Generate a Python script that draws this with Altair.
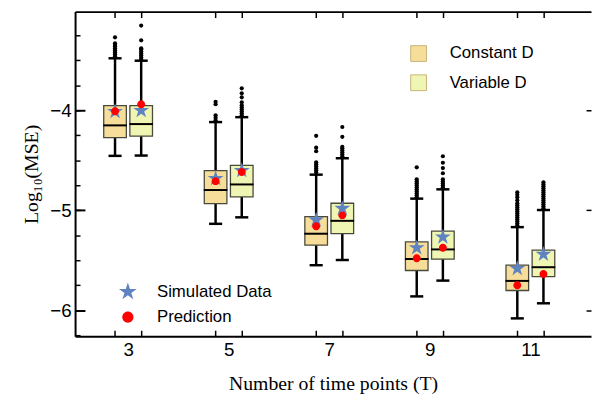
import altair as alt
import pandas as pd

# ---------------- data ----------------
T_values = [3, 5, 7, 9, 11]
methods = ["Constant D", "Variable D"]
method_fill = ["#f6dd9a", "#eff5b3"]
kinds = ["Simulated Data", "Prediction"]

# box statistics (log10 MSE), one value per T
const_low = [-4.456, -5.136, -5.550, -5.862, -6.082]
const_q1 = [-4.273, -4.933, -5.350, -5.603, -5.803]
const_med = [-4.151, -4.798, -5.235, -5.488, -5.707]
const_q3 = [-3.954, -4.604, -5.064, -5.317, -5.550]
const_high = [-3.480, -4.118, -4.644, -4.884, -5.169]

var_low = [-4.453, -5.071, -5.498, -5.704, -5.931]
var_q1 = [-4.259, -4.867, -5.235, -5.490, -5.665]
var_med = [-4.138, -4.742, -5.106, -5.392, -5.570]
var_q3 = [-3.954, -4.552, -4.930, -5.209, -5.399]
var_high = [-3.504, -4.069, -4.480, -4.791, -4.998]

sim_const = [-4.013, -4.683, -5.097, -5.376, -5.583]
sim_var = [-4.003, -4.604, -4.982, -5.268, -5.441]
pred_const = [-4.010, -4.709, -5.160, -5.481, -5.751]
pred_var = [-3.940, -4.618, -5.051, -5.376, -5.638]

const_out = [
    [-3.46, -3.44, -3.42, -3.40, -3.38, -3.36, -3.345, -3.33, -3.27],
    [-4.10, -4.075, -4.05, -3.94, -3.915],
    [-4.62, -4.60, -4.58, -4.56, -4.54, -4.52, -4.41, -4.374, -4.256],
    [-4.87, -4.85, -4.83, -4.81, -4.79, -4.77, -4.75, -4.73, -4.71, -4.69, -4.571],
    [-5.15, -5.13, -5.11, -5.09, -5.07, -5.05, -5.03, -5.01, -4.99, -4.97, -4.95,
     -4.93, -4.90, -4.87, -4.845, -4.82],
]
var_out = [
    [-3.49, -3.47, -3.45, -3.43, -3.41, -3.39, -3.38, -3.30, -3.153],
    [-4.05, -4.03, -4.01, -3.99, -3.97, -3.95, -3.92, -3.87, -3.83, -3.78],
    [-4.46, -4.44, -4.42, -4.40, -4.38, -4.365, -4.266, -4.167],
    [-4.77, -4.75, -4.73, -4.71, -4.69, -4.63, -4.578, -4.525, -4.46],
    [-4.98, -4.96, -4.94, -4.92, -4.90, -4.88, -4.86, -4.84, -4.82, -4.80, -4.78,
     -4.76, -4.74, -4.72],
]

# ---------------- layout constants ----------------
SIDE = [-0.26, 0.26]          # horizontal shift of each method around T
BOX_HALF = 0.225
CAP_HALF = 0.13
MED_HALF = 0.235
X_DOMAIN = [1.9455, 12.206]
Y_DOMAIN = [-6.26, -3.013]
W, H = 523, 329

STAR = ("M0,-1L0.2245,-0.309L0.951,-0.309L0.363,0.118L0.588,0.809L0,0.382"
        "L-0.588,0.809L-0.363,0.118L-0.951,-0.309L-0.2245,-0.309Z")
DOT = "M-0.6,0A0.6,0.6 0 1,0 0.6,0A0.6,0.6 0 1,0 -0.6,0Z"

stats = {
    "Constant D": (const_low, const_q1, const_med, const_q3, const_high, sim_const, pred_const, const_out),
    "Variable D": (var_low, var_q1, var_med, var_q3, var_high, sim_var, pred_var, var_out),
}

box_rows, out_rows, pt_rows = [], [], []
for mi, m in enumerate(methods):
    low, q1, med, q3, high, sim, pred, outs = stats[m]
    for j, t in enumerate(T_values):
        x = t + SIDE[mi]
        box_rows.append(dict(method=m, T=t, x=x, xl=x - BOX_HALF, xr=x + BOX_HALF,
                             cl=x - CAP_HALF, cr=x + CAP_HALF,
                             ml=x - MED_HALF, mr=x + MED_HALF,
                             low=low[j], q1=q1[j], med=med[j], q3=q3[j], high=high[j]))
        for v in outs[j]:
            out_rows.append(dict(x=x, v=v))
        pt_rows.append(dict(x=x, v=sim[j], kind="Simulated Data"))
for mi, m in enumerate(methods):
    _, _, _, _, _, sim, pred, _ = stats[m]
    for j, t in enumerate(T_values):
        pt_rows.append(dict(x=t + SIDE[mi], v=pred[j], kind="Prediction"))

box_df = pd.DataFrame(box_rows)
out_df = pd.DataFrame(out_rows)
pt_df = pd.DataFrame(pt_rows)
cap_df = pd.concat([box_df.assign(yc=box_df["low"]), box_df.assign(yc=box_df["high"])])

box_pos = sorted(box_df["x"].tolist())
quarters = [-6.25 + 0.25 * k for k in range(13)]
majors = [-6, -5, -4]

xs = alt.Scale(domain=X_DOMAIN, nice=False, zero=False)
ys = alt.Scale(domain=Y_DOMAIN, nice=False, zero=False)

SANS = "Liberation Sans"
SERIF = "Liberation Serif"

# whiskers + bottom / left inner ticks (frame lines)
whisk = alt.Chart(box_df).mark_rule(color="black", strokeWidth=2.5).encode(
    x=alt.X("x:Q", scale=xs, axis=alt.Axis(orient="top", offset=-H, values=box_pos,
                                           tickSize=6, tickWidth=1.5, labels=False,
                                           domain=True, domainWidth=2, title=None)),
    y=alt.Y("low:Q", scale=ys, axis=alt.Axis(orient="right", offset=-W, values=quarters,
                                             tickSize=5, tickWidth=1.5, labels=False,
                                             domain=True, domainWidth=2, title=None)),
    y2="high:Q",
)

boxes = alt.Chart(box_df).mark_rect(stroke="#4a4a3a", strokeWidth=1.3).encode(
    x=alt.X("xl:Q", scale=xs, axis=alt.Axis(orient="bottom", values=T_values, ticks=False,
                                            tickSize=0, domain=False, labelPadding=5,
                                            labelFont=SANS, labelFontSize=19,
                                            title="Number of time points (T)",
                                            titleFont=SERIF, titleFontSize=20,
                                            titleFontWeight="normal", titlePadding=14)),
    x2="xr:Q",
    y=alt.Y("q1:Q", scale=ys, axis=alt.Axis(orient="left", values=majors, ticks=False,
                                            tickSize=0, domain=False, labelPadding=4,
                                            labelFont=SANS, labelFontSize=19,
                                            title="Log₁₀(MSE)", titleFont=SERIF,
                                            titleFontSize=20, titleFontWeight="normal",
                                            titlePadding=8)),
    y2="q3:Q",
    fill=alt.Fill("method:N", scale=alt.Scale(domain=methods, range=method_fill),
                  legend=alt.Legend(orient="none", legendX=339.7, legendY=34, title=None,
                                    symbolType="square", symbolSize=256,
                                    symbolStrokeColor="#c8b47a", symbolStrokeWidth=1,
                                    labelFont=SANS, labelFontSize=17, labelOffset=23,
                                    rowPadding=8.6, padding=0)),
)

caps = alt.Chart(cap_df).mark_rule(color="black", strokeWidth=2.5).encode(
    x=alt.X("cl:Q", scale=xs, axis=alt.Axis(orient="bottom", offset=-H, values=box_pos,
                                            tickSize=6, tickWidth=1.5, labels=False,
                                            domain=True, domainWidth=2, title=None)),
    x2="cr:Q",
    y=alt.Y("yc:Q", scale=ys, axis=alt.Axis(orient="right", offset=-W, values=majors,
                                            tickSize=10, tickWidth=2, labels=False,
                                            domain=False, title=None)),
)

medians = alt.Chart(box_df).mark_rule(color="black", strokeWidth=2).encode(
    x=alt.X("ml:Q", scale=xs, axis=None),
    x2="mr:Q",
    y=alt.Y("med:Q", scale=ys, axis=alt.Axis(orient="left", offset=-W, values=majors,
                                             tickSize=5, tickWidth=1.5, labels=False,
                                             domain=False, title=None)),
)

outl = alt.Chart(out_df).mark_circle(color="black", size=18, opacity=1).encode(
    x=alt.X("x:Q", scale=xs, axis=None),
    y=alt.Y("v:Q", scale=ys, axis=None),
)

kind_legend = alt.Legend(orient="none", legendX=43, legendY=273.5, title=None,
                         symbolSize=359, labelFont=SANS, labelFontSize=17,
                         labelOffset=19, rowPadding=6.6, padding=0)
color_enc = alt.Color("kind:N", scale=alt.Scale(domain=kinds, range=["#5f82c0", "#ff0000"]),
                      legend=kind_legend)
shape_enc = alt.Shape("kind:N", scale=alt.Scale(domain=kinds, range=[STAR, DOT]),
                      legend=kind_legend)

stars = alt.Chart(pt_df).transform_filter(alt.datum.kind == "Simulated Data").mark_point(
    filled=True, size=283, opacity=1, strokeWidth=0).encode(
    x=alt.X("x:Q", scale=xs, axis=None),
    y=alt.Y("v:Q", scale=ys, axis=None),
    color=color_enc, shape=shape_enc,
)
preds = alt.Chart(pt_df).transform_filter(alt.datum.kind == "Prediction").mark_point(
    filled=True, size=178, opacity=1, strokeWidth=0).encode(
    x=alt.X("x:Q", scale=xs, axis=None),
    y=alt.Y("v:Q", scale=ys, axis=None),
    color=color_enc, shape=shape_enc,
)

chart = alt.layer(whisk, boxes, caps, medians, outl, stars, preds).resolve_axis(
    x="independent", y="independent"
).properties(
    width=W, height=H,
    padding={"left": 68, "top": 1, "right": 1, "bottom": 60},
    autosize=alt.AutoSizeParams(type="none"),
).configure_view(stroke=None).configure_axis(
    grid=False, domainColor="black", tickColor="black", labelColor="black", titleColor="black"
).configure_legend(labelColor="black")

chart.save("out.html", embed_options={"renderer": "svg", "actions": False})
